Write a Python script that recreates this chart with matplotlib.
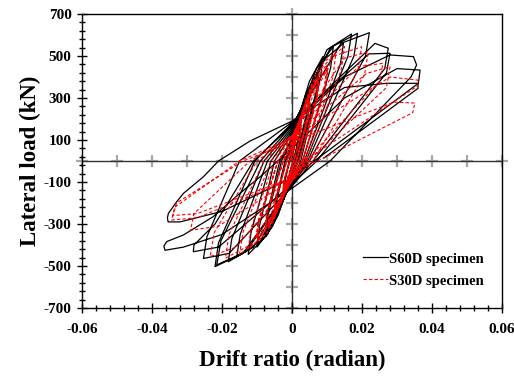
import numpy as np
import matplotlib
matplotlib.use('Agg')
import matplotlib.pyplot as plt
from matplotlib.ticker import FixedLocator

plt.rcParams['font.family'] = ['Liberation Serif', 'DejaVu Serif']
plt.rcParams['font.weight'] = 'bold'
plt.rcParams['axes.unicode_minus'] = False

# Digitised hysteresis paths (drift ratio, lateral load in kN), one row per cycle
s60d_drift = [
    0, 0.0012, 0.0025, 0.0022, 0.0004, 0, -0.0012, -0.0025,
    -0.0022, -0.0007, 0, 0.0013, 0.0026, 0.0023, 0.0005, 0, -0.0013, -0.0026,
    -0.0023, -0.0008, 0, 0.0025, 0.0050, 0.0045, 0.0009, 0, -0.0025, -0.0050,
    -0.0045, -0.0018, 0, 0.0027, 0.0052, 0.0047, 0.0010, 0, -0.0027, -0.0052,
    -0.0047, -0.0020, 0, 0.0040, 0.0075, 0.0069, 0.0016, 0, -0.0040, -0.0075,
    -0.0069, -0.0030, 0, 0.0042, 0.0077, 0.0071, 0.0018, 0, -0.0042, -0.0077,
    -0.0071, -0.0035, 0, 0.0050, 0.0088, 0.0082, 0.0025, 0, -0.0055, -0.0100,
    -0.0093, -0.0050, 0, 0.0070, 0.0118, 0.0110, 0.0030, 0, -0.0070, -0.0125,
    -0.0117, -0.0060, 0, 0.0090, 0.0147, 0.0138, 0.0035, 0, -0.0090, -0.0158,
    -0.0148, -0.0070, 0, 0.0100, 0.0170, 0.0160, 0.0040, 0, -0.0110, -0.0182,
    -0.0172, -0.0080, 0, 0.0110, 0.0187, 0.0177, 0.0045, 0, -0.0130, -0.0215,
    -0.0203, -0.0090, 0, 0.0140, 0.0221, 0.0210, 0.0050, 0, -0.0140, -0.0220,
    -0.0210, -0.0106, 0, 0.0237, 0.0275, 0.0265, 0.0060, 0, -0.0180, -0.0253,
    -0.0243, -0.0150, 0, 0.0220, 0.0280, 0.0270, 0.0071, 0, -0.0210, -0.0282,
    -0.0280, -0.0220, -0.0110, 0, 0.0150, 0.0280, 0.0347, 0.0356, 0.0340, 0.0109,
    0, -0.0200, -0.0310, -0.0363,
    -0.0366, -0.0358, -0.0310, -0.0225, -0.0149, -0.0091, 0, 0.0150, 0.0300, 0.0366,
    0.0361, 0.0042, 0, -0.0200, -0.0320, -0.0354,
    -0.0356, -0.0353, -0.0330, -0.0310, -0.0253, -0.0210, -0.0120, 0, 0.0150, 0.0270,
    0.0360, 0.0360, 0.0090,
]
s60d_load = [
    0, 120, 200, 130, 0, -20, -100, -170,
    -110, 0, 40, 125, 195, 125, 0, -25, -100, -165,
    -105, 0, 60, 230, 340, 250, 0, -50, -190, -280,
    -200, 0, 70, 225, 325, 240, 0, -55, -185, -270,
    -190, 0, 90, 320, 430, 330, 0, -70, -260, -360,
    -260, 0, 100, 310, 415, 320, 0, -75, -255, -350,
    -250, 0, 110, 380, 497, 400, 0, -85, -310, -410,
    -310, 0, 130, 440, 544, 440, 0, -95, -350, -445,
    -340, 0, 140, 480, 560, 460, 0, -100, -380, -456,
    -350, 0, 150, 530, 605, 500, 0, -105, -410, -480,
    -370, 0, 160, 540, 608, 500, 0, -110, -430, -495,
    -380, 0, 170, 560, 611, 500, 0, -115, -440, -503,
    -390, 0, 180, 560, 537, 440, 0, -120, -440, -464,
    -360, 0, 185, 510, 513, 420, 0, -110, -410, -432,
    -400, -300, 0, 170, 400, 505, 497, 457, 400, 0,
    -130, -350, -410, -425,
    -405, -384, -352, -265, -154, -75, 60, 300, 440, 433,
    370, -27, -80, -240, -290, -290,
    -270, -249, -195, -154, -75, 0, 95, 190, 350, 370,
    370, 346, 13,
]

s30d_drift = [
    0, 0.0012, 0.0025, 0.0022, 0.0005, 0, -0.0012, -0.0025,
    -0.0022, -0.0006, 0, 0.0012, 0.0025, 0.0022, 0.0005, 0, -0.0012, -0.0025,
    -0.0022, -0.0006, 0, 0.0013, 0.0026, 0.0023, 0.0005, 0, -0.0013, -0.0026,
    -0.0023, -0.0007, 0, 0.0025, 0.0050, 0.0045, 0.0012, 0, -0.0025, -0.0050,
    -0.0045, -0.0015, 0, 0.0026, 0.0051, 0.0046, 0.0012, 0, -0.0026, -0.0051,
    -0.0046, -0.0015, 0, 0.0027, 0.0052, 0.0047, 0.0012, 0, -0.0027, -0.0052,
    -0.0047, -0.0016, 0, 0.0040, 0.0075, 0.0069, 0.0020, 0, -0.0040, -0.0075,
    -0.0069, -0.0025, 0, 0.0041, 0.0076, 0.0070, 0.0020, 0, -0.0041, -0.0076,
    -0.0070, -0.0025, 0, 0.0042, 0.0077, 0.0071, 0.0020, 0, -0.0042, -0.0077,
    -0.0071, -0.0025, 0, 0.0055, 0.0100, 0.0093, 0.0030, 0, -0.0055, -0.0100,
    -0.0093, -0.0040, 0, 0.0056, 0.0102, 0.0095, 0.0030, 0, -0.0056, -0.0102,
    -0.0095, -0.0040, 0, 0.0057, 0.0103, 0.0096, 0.0030, 0, -0.0057, -0.0103,
    -0.0096, -0.0040, 0, 0.0070, 0.0125, 0.0117, 0.0035, 0, -0.0070, -0.0125,
    -0.0117, -0.0050, 0, 0.0090, 0.0150, 0.0140, 0.0040, 0, -0.0090, -0.0150,
    -0.0140, -0.0060, 0, 0.0120, 0.0199, 0.0188, 0.0050, 0, -0.0120, -0.0190,
    -0.0180, -0.0080, 0, 0.0150, 0.0218, 0.0207, 0.0060, 0, -0.0160, -0.0234,
    -0.0222, -0.0100, 0, 0.0190, 0.0260, 0.0250, 0.0040, 0, -0.0210, -0.0290,
    -0.0280, -0.0120, 0, 0.0213, 0.0280, 0.0270, 0.0040, 0, -0.0270, -0.0344,
    -0.0335, -0.0150, 0, 0.0280, 0.0360, 0.0356, 0.0035, 0, -0.0270, -0.0340,
    -0.0330, -0.0140, 0, 0.0290, 0.0351, 0.0345, 0.0042,
]
s30d_load = [
    0, 100, 170, 110, 0, -15, -85, -150,
    -95, 0, 25, 95, 160, 105, 0, -20, -85, -145,
    -90, 0, 30, 95, 155, 100, 0, -20, -80, -140,
    -90, 0, 40, 200, 290, 210, 0, -35, -170, -250,
    -180, 0, 45, 195, 280, 205, 0, -40, -165, -240,
    -175, 0, 50, 190, 275, 200, 0, -40, -160, -235,
    -170, 0, 60, 290, 390, 300, 0, -55, -230, -320,
    -240, 0, 65, 280, 375, 290, 0, -60, -225, -310,
    -235, 0, 70, 275, 370, 285, 0, -60, -220, -305,
    -230, 0, 80, 360, 460, 360, 0, -70, -290, -380,
    -290, 0, 85, 350, 445, 350, 0, -75, -285, -370,
    -285, 0, 90, 345, 440, 345, 0, -75, -280, -365,
    -280, 0, 100, 420, 510, 400, 0, -85, -340, -420,
    -320, 0, 110, 470, 545, 430, 0, -90, -370, -445,
    -340, 0, 115, 500, 544, 430, 0, -95, -400, -463,
    -350, 0, 120, 490, 520, 410, 0, -95, -410, -455,
    -340, 0, 120, 450, 465, 380, 0, -90, -310, -330,
    -250, 0, 115, 417, 449, 350, -10, -85, -270, -281,
    -220, 0, 110, 400, 385, 354, 0, -80, -250, -260,
    -200, 0, 90, 280, 276, 230, -27,
]

x_major = [-0.06, -0.04, -0.02, 0, 0.02, 0.04, 0.06]
x_labels = ['-0.06', '-0.04', '-0.02', '0', '0.02', '0.04', '0.06']
y_major = [-700, -500, -300, -100, 100, 300, 500, 700]

fig = plt.figure(figsize=(5.14, 3.76), dpi=100)
ax = fig.add_axes([82 / 514, 68 / 376, 420 / 514, 294 / 376])

# centre lines with grey crosses
cross_x = np.arange(-0.06, 0.0601, 0.01)
cross_y = np.arange(-700, 701, 100)
ax.plot(cross_x, np.zeros_like(cross_x), '+', color='#a8a8a8', ms=8, mew=1.6,
        clip_on=False, zorder=1)
ax.plot(np.zeros_like(cross_y), cross_y, '+', color='#a8a8a8', ms=8, mew=1.6,
        clip_on=False, zorder=1)
ax.axhline(0, color='#333333', lw=1.0, zorder=1.5)
ax.axvline(0, color='#333333', lw=1.0, zorder=1.5)

ax.plot(s60d_drift, s60d_load, color='black', lw=0.9, label='S60D specimen', zorder=2)
ax.plot(s30d_drift, s30d_load, color='red', lw=0.8, ls=(0, (3, 2)),
        label='S30D specimen', zorder=3)

ax.set_xlim(-0.06, 0.06)
ax.set_ylim(-700, 700)
ax.xaxis.set_major_locator(FixedLocator(x_major))
ax.set_xticklabels(x_labels)
ax.xaxis.set_minor_locator(FixedLocator(np.arange(-0.06, 0.0601, 0.004)))
ax.yaxis.set_major_locator(FixedLocator(y_major))
ax.yaxis.set_minor_locator(FixedLocator(np.arange(-700, 701, 40)))
ax.tick_params(which='major', direction='inout', length=7, width=1.0,
               labelsize=11, pad=4)
ax.tick_params(axis='x', which='major', pad=7)
ax.tick_params(which='minor', direction='inout', length=5, width=1.0)
for lab in ax.get_xticklabels() + ax.get_yticklabels():
    lab.set_fontweight('bold')
for sp in ax.spines.values():
    sp.set_linewidth(1.0)

ax.set_xlabel('Drift ratio (radian)', fontsize=16.5, fontweight='bold', labelpad=10)
ax.set_ylabel('Lateral load (kN)', fontsize=16.5, fontweight='bold', labelpad=2)

ax.legend(loc='lower left', bbox_to_anchor=(0.638, 0.025), frameon=False,
          handlelength=1.7, handletextpad=0.1, labelspacing=0.6,
          prop={'weight': 'bold', 'size': 10.5})

fig.savefig('out.png', dpi=100)
